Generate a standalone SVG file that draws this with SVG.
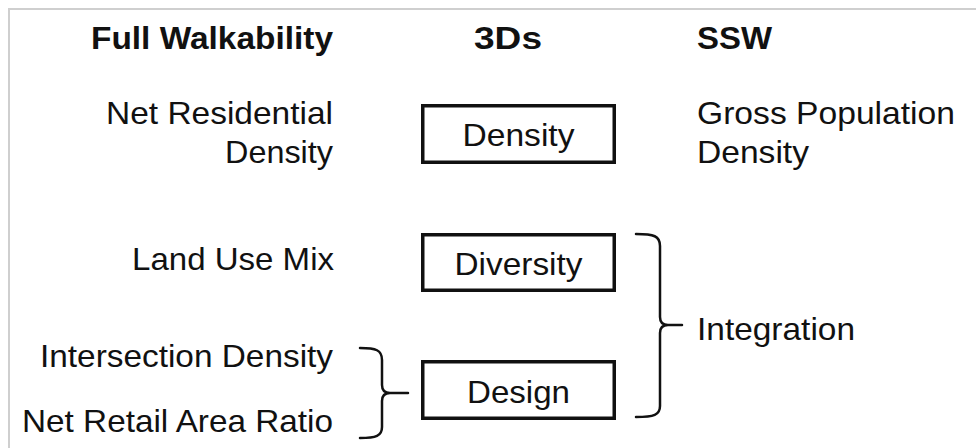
<svg xmlns="http://www.w3.org/2000/svg" width="976" height="448" viewBox="0 0 976 448">
<style>
text{font-family:"Liberation Sans",Arial,sans-serif;fill:#111;}
.h{font-weight:bold;font-size:31px;}
.t{font-size:32px;}
.box{fill:#fff;stroke:#111;stroke-width:3.5;}
.br{fill:none;stroke:#111;stroke-width:2.5;stroke-linecap:round;stroke-linejoin:round;}
</style>
<rect width="976" height="448" fill="#fff"/>
<path d="M9,448 L9,9 L976,9" fill="none" stroke="#cfcfcf" stroke-width="2"/>
<g id="headers">
<text class="h" x="333" y="49" text-anchor="end" textLength="242" lengthAdjust="spacingAndGlyphs">Full Walkability</text>
<text class="h" x="508" y="49" text-anchor="middle" textLength="68" lengthAdjust="spacingAndGlyphs">3Ds</text>
<text class="h" x="697" y="49" textLength="75" lengthAdjust="spacingAndGlyphs">SSW</text>
</g>
<g id="net-residential-density">
<text class="t" x="333" y="124" text-anchor="end" textLength="227" lengthAdjust="spacingAndGlyphs">Net Residential</text>
<text class="t" x="333" y="163" text-anchor="end" textLength="108" lengthAdjust="spacingAndGlyphs">Density</text>
</g>
<g id="land-use-mix">
<text class="t" x="334" y="270" text-anchor="end" textLength="202" lengthAdjust="spacingAndGlyphs">Land Use Mix</text>
</g>
<g id="intersection-density">
<text class="t" x="333" y="367" text-anchor="end" textLength="293" lengthAdjust="spacingAndGlyphs">Intersection Density</text>
</g>
<g id="net-retail-area-ratio">
<text class="t" x="333" y="432" text-anchor="end" textLength="311" lengthAdjust="spacingAndGlyphs">Net Retail Area Ratio</text>
</g>
<g id="density">
<rect class="box" x="422.75" y="105.75" width="191.5" height="56.5"/>
<text class="t" x="518.5" y="146" text-anchor="middle" textLength="112" lengthAdjust="spacingAndGlyphs">Density</text>
</g>
<g id="diversity">
<rect class="box" x="422.75" y="234.75" width="191.5" height="55.5"/>
<text class="t" x="518.5" y="275" text-anchor="middle" textLength="128" lengthAdjust="spacingAndGlyphs">Diversity</text>
</g>
<g id="design">
<rect class="box" x="422.75" y="361.75" width="191.5" height="56.5"/>
<text class="t" x="518.5" y="403" text-anchor="middle" textLength="103" lengthAdjust="spacingAndGlyphs">Design</text>
</g>
<g id="gross-population-density">
<text class="t" x="697" y="124" textLength="258" lengthAdjust="spacingAndGlyphs">Gross Population</text>
<text class="t" x="697" y="163" textLength="112" lengthAdjust="spacingAndGlyphs">Density</text>
</g>
<g id="integration">
<text class="t" x="697" y="340" textLength="158" lengthAdjust="spacingAndGlyphs">Integration</text>
</g>
<g id="connectors">
<path class="br" d="M360,348 C376,348 382,350 382,360 L382,385 C382,391 385,393 390,393 L408,393 M390,393 C385,393 382,395 382,401 L382,427 C382,436 376,438 360,438"/>
<path class="br" d="M636,234 C654,234 660,236 660,246 L660,317 C660,323 663,325 668,325 L682,325 M668,325 C663,325 660,327 660,333 L660,406 C660,415 654,417 636,417"/>
</g>
</svg>
